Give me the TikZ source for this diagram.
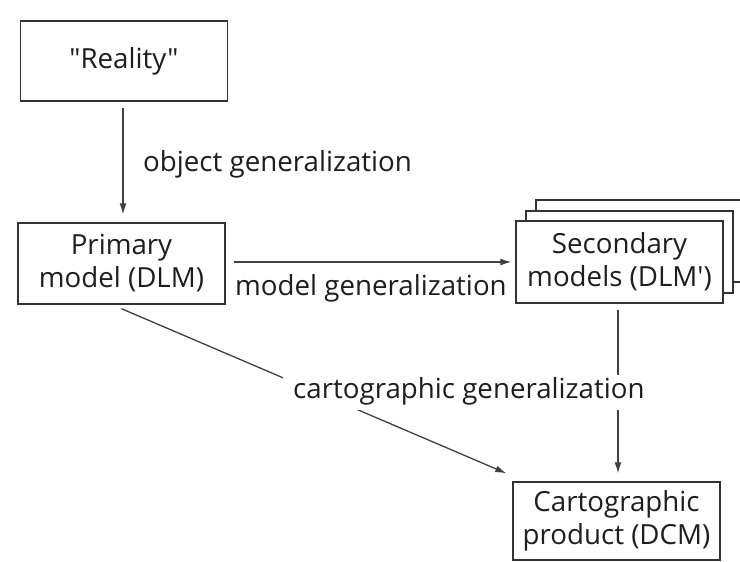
\documentclass[tikz,border=0pt]{standalone}
\usepackage{fontspec}
\setmainfont{Open Sans}[Ligatures=TeXOff]
\usetikzlibrary{arrows.meta}
\definecolor{boxc}{HTML}{333333}
\definecolor{linec}{HTML}{404040}
\definecolor{txtc}{HTML}{1E1E1E}
\begin{document}
\begin{tikzpicture}[x=1pt,y=-1pt,
  box/.style={draw=boxc, line width=1.4pt, fill=white, inner sep=0pt, minimum width=207pt,
    align=center, text=txtc, font=\fontsize{27.7}{33}\selectfont},
  conn/.style={draw=linec, line width=1.3pt, -{Latex[length=11pt,width=7pt]}},
  lab/.style={text=txtc, font=\fontsize{27.7}{33}\selectfont, inner sep=0pt}]
\useasboundingbox[fill=white] (0,0) rectangle (740,562);
\node[box, minimum height=80pt] (reality) at (124,61) {"Reality"};
\node[box, minimum height=81pt] (primary) at (121.5,263.5) {Primary\\model (DLM)};
\node[box, minimum height=82pt] (sec3) at (639.5,241) {};
\node[box, minimum height=82pt] (sec2) at (629.5,252) {};
\node[box, minimum height=82pt] (secondary) at (619.5,262) {Secondary\\models (DLM')};
\node[box, minimum height=78pt] (carto) at (616.5,521) {Cartographic\\product (DCM)};
\draw[conn] ([xshift=-1pt,yshift=-6pt]reality.south) -- ([xshift=1.5pt,yshift=8pt]primary.north);
\draw[conn] ([xshift=8pt,yshift=1.5pt]primary.east) -- ([xshift=-4pt]secondary.west);
\draw[conn] ([yshift=-4pt]primary.south) -- ([xshift=-6pt,yshift=8pt]carto.north west);
\draw[conn] ([xshift=-1.5pt,yshift=-6pt]secondary.south) -- ([xshift=1.5pt,yshift=8pt]carto.north);
\node[lab, anchor=base west] (objlab) at (143,171) {object generalization};
\node[lab, anchor=base west] (modlab) at (235,295) {model generalization};
\node[lab, fill=white, anchor=base west, inner xsep=10pt, inner ysep=4pt, text height=19pt, text depth=8pt] (cartlab) at (283,398) {cartographic generalization};
\end{tikzpicture}
\end{document}
